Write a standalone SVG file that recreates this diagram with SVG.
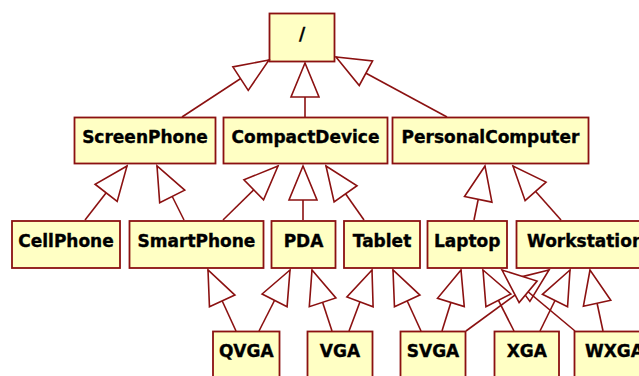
<svg xmlns="http://www.w3.org/2000/svg" width="639" height="376" viewBox="0 0 639 376">
  <style>
    .box { fill: #FFFFC4; stroke: #8B1111; stroke-width: 1.8; }
    .lbl { font-family: "DejaVu Sans", Verdana, sans-serif; font-weight: bold; font-size: 17px; fill: #000; stroke: #000; stroke-width: 0.35; text-anchor: middle; }
    .gen { fill: none; stroke: #8B1111; stroke-width: 1.6; marker-end: url(#hollow); }
  </style>
  <defs>
    <!-- hollow generalization triangle, tip at the line end -->
    <marker id="hollow" markerUnits="userSpaceOnUse" viewBox="-2 -17 38 34" markerWidth="38" markerHeight="34" refX="34" refY="0" orient="auto">
      <path d="M34,0 L0,-14 L0,14 Z" fill="#fff" stroke="#8B1111" stroke-width="1.6" stroke-linejoin="miter"/>
    </marker>
  </defs>

  <!-- classes -->
  <g id="root"><rect class="box" x="269.5" y="13.5" width="65" height="48"/><text class="lbl" x="302" y="40">/</text></g>

  <g id="ScreenPhone"><rect class="box" x="74.5" y="117.5" width="141" height="46"/><text class="lbl" x="145" y="143">ScreenPhone</text></g>
  <g id="CompactDevice"><rect class="box" x="223.5" y="117.5" width="164" height="46"/><text class="lbl" x="305.5" y="143">CompactDevice</text></g>
  <g id="PersonalComputer"><rect class="box" x="392.5" y="117.5" width="196" height="46"/><text class="lbl" x="490.5" y="143">PersonalComputer</text></g>

  <g id="CellPhone"><rect class="box" x="12" y="221" width="108" height="47"/><text class="lbl" x="66" y="247">CellPhone</text></g>
  <g id="SmartPhone"><rect class="box" x="129.5" y="221" width="134" height="47"/><text class="lbl" x="196.5" y="247">SmartPhone</text></g>
  <g id="PDA"><rect class="box" x="271.5" y="221" width="64" height="47"/><text class="lbl" x="303.5" y="247">PDA</text></g>
  <g id="Tablet"><rect class="box" x="344" y="221" width="76" height="47"/><text class="lbl" x="382" y="247">Tablet</text></g>
  <g id="Laptop"><rect class="box" x="427.5" y="221" width="79.5" height="47"/><text class="lbl" x="467.25" y="247">Laptop</text></g>
  <g id="Workstation"><rect class="box" x="516.5" y="221" width="138" height="47"/><text class="lbl" x="585.5" y="247">Workstation</text></g>

  <g id="QVGA"><rect class="box" x="213" y="331.5" width="66.5" height="47"/><text class="lbl" x="246.25" y="357">QVGA</text></g>
  <g id="VGA"><rect class="box" x="307.5" y="331.5" width="65" height="47"/><text class="lbl" x="340" y="357">VGA</text></g>
  <g id="SVGA"><rect class="box" x="400.5" y="331.5" width="65" height="47"/><text class="lbl" x="433" y="357">SVGA</text></g>
  <g id="XGA"><rect class="box" x="494.5" y="331.5" width="64.5" height="47"/><text class="lbl" x="526.75" y="357">XGA</text></g>
  <g id="WXGA"><rect class="box" x="574.5" y="331.5" width="80" height="47"/><text class="lbl" x="614.5" y="357">WXGA</text></g>

  <!-- generalization connectors: child -> parent -->
  <g id="connectors">
    <line class="gen" x1="182" y1="117" x2="269" y2="60"/>
    <line class="gen" x1="305" y1="117" x2="305" y2="63"/>
    <line class="gen" x1="447" y1="117" x2="336" y2="57"/>

    <line class="gen" x1="85" y1="220" x2="127" y2="166"/>
    <line class="gen" x1="184" y1="220" x2="157" y2="166"/>
    <line class="gen" x1="223" y1="220" x2="278" y2="166"/>
    <line class="gen" x1="303" y1="220" x2="303" y2="166"/>
    <line class="gen" x1="364" y1="220" x2="326" y2="166"/>
    <line class="gen" x1="474" y1="220" x2="485" y2="166"/>
    <line class="gen" x1="561" y1="220" x2="513" y2="166"/>

    <line class="gen" x1="236" y1="331" x2="208" y2="270"/>
    <line class="gen" x1="259" y1="331" x2="290" y2="270"/>
    <line class="gen" x1="332" y1="331" x2="312" y2="270"/>
    <line class="gen" x1="349" y1="331" x2="372" y2="270"/>
    <line class="gen" x1="421" y1="331" x2="393" y2="270"/>
    <line class="gen" x1="442" y1="331" x2="461" y2="270"/>
    <line class="gen" x1="466" y1="331" x2="549" y2="270"/>
    <line class="gen" x1="514" y1="331" x2="483" y2="270"/>
    <line class="gen" x1="540" y1="331" x2="570" y2="270"/>
    <line class="gen" x1="575" y1="331" x2="502" y2="270"/>
    <line class="gen" x1="603" y1="331" x2="590" y2="270"/>
  </g>
</svg>
